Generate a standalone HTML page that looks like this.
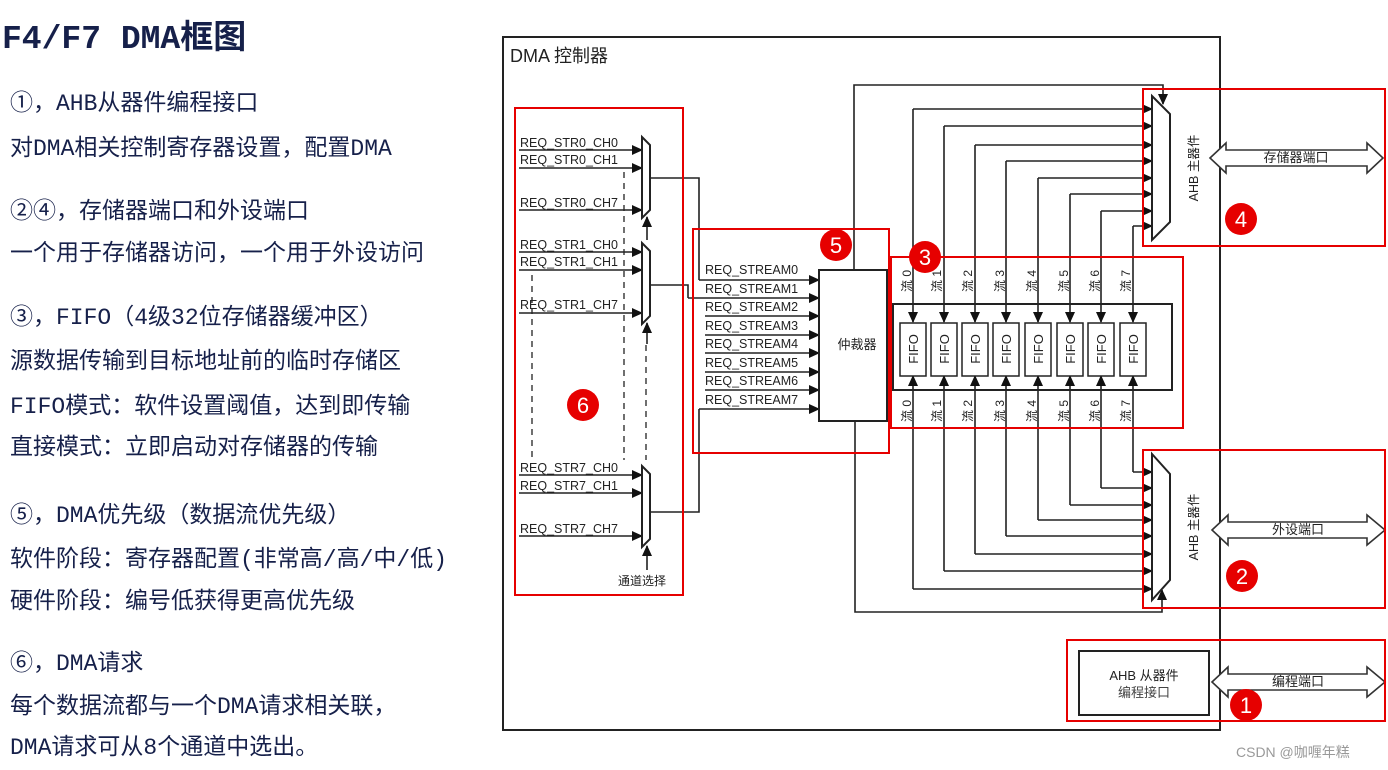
<!DOCTYPE html>
<html><head><meta charset="utf-8"><style>
body{margin:0;background:#fff}
svg{display:block}
.t{font-family:"Liberation Mono","Noto Sans CJK SC",monospace;fill:#16204a}
.s{font-family:"Liberation Sans","Noto Sans CJK SC",sans-serif;fill:#222}
.r{fill:none;stroke:#e60000;stroke-width:2}
.l{stroke:#222;stroke-width:1.6;fill:none}
</style></head><body>
<svg width="1388" height="770" viewBox="0 0 1388 770" xmlns="http://www.w3.org/2000/svg">
<defs><marker id="a" markerWidth="11" markerHeight="10" refX="10" refY="5" orient="auto" markerUnits="userSpaceOnUse"><path d="M0,0L11,5L0,10z" fill="#111"/></marker></defs>
<g class="t">
<text x="2" y="48" font-size="33" font-weight="bold">F4/F7 DMA框图</text>
<g font-size="23">
<text x="10" y="110">①，AHB从器件编程接口</text>
<text x="10" y="155">对DMA相关控制寄存器设置，配置DMA</text>
<text x="10" y="218">②④，存储器端口和外设端口</text>
<text x="10" y="260">一个用于存储器访问，一个用于外设访问</text>
<text x="10" y="324">③，FIFO（4级32位存储器缓冲区）</text>
<text x="10" y="368">源数据传输到目标地址前的临时存储区</text>
<text x="10" y="413">FIFO模式：软件设置阈值，达到即传输</text>
<text x="10" y="454">直接模式：立即启动对存储器的传输</text>
<text x="10" y="522">⑤，DMA优先级（数据流优先级）</text>
<text x="10" y="566">软件阶段：寄存器配置(非常高/高/中/低)</text>
<text x="10" y="608">硬件阶段：编号低获得更高优先级</text>
<text x="10" y="670">⑥，DMA请求</text>
<text x="10" y="713">每个数据流都与一个DMA请求相关联，</text>
<text x="10" y="754">DMA请求可从8个通道中选出。</text>
</g></g>
<rect x="503" y="37" width="717" height="693" fill="none" stroke="#222" stroke-width="2"/>
<text class="s" x="510" y="62" font-size="18">DMA 控制器</text>
<g class="s" font-size="12.5">
<text x="520" y="147">REQ_STR0_CH0</text><text x="520" y="164">REQ_STR0_CH1</text><text x="520" y="207">REQ_STR0_CH7</text>
<text x="520" y="249">REQ_STR1_CH0</text><text x="520" y="266">REQ_STR1_CH1</text><text x="520" y="309">REQ_STR1_CH7</text>
<text x="520" y="472">REQ_STR7_CH0</text><text x="520" y="490">REQ_STR7_CH1</text><text x="520" y="533">REQ_STR7_CH7</text>
<text x="618" y="585" font-size="12">通道选择</text>
</g>
<g class="l" marker-end="url(#a)">
<path d="M519 150H642"/><path d="M519 168H642"/><path d="M519 210H642"/>
<path d="M519 252H642"/><path d="M519 270H642"/><path d="M519 313H642"/>
<path d="M519 475H642"/><path d="M519 493H642"/><path d="M519 536H642"/>
<path d="M647 240V217"/><path d="M647 344V323"/><path d="M647 570V546"/>
</g>
<g stroke="#222" stroke-width="1.3" stroke-dasharray="6,5" fill="none">
<path d="M624 172V460"/><path d="M532 275V460"/><path d="M646 345V460"/>
</g>
<g fill="#fff" stroke="#222" stroke-width="2">
<path d="M642 137L650 145V210L642 218Z"/><path d="M642 243L650 251V316L642 324Z"/><path d="M642 466L650 474V539L642 547Z"/>
</g>
<g class="l">
<path d="M650 178H699V280"/><path d="M650 285H688V298"/><path d="M650 512H699V409"/>
</g>
<g class="s" font-size="12.5">
<text x="705" y="274">REQ_STREAM0</text><text x="705" y="293">REQ_STREAM1</text><text x="705" y="311">REQ_STREAM2</text><text x="705" y="330">REQ_STREAM3</text>
<text x="705" y="348">REQ_STREAM4</text><text x="705" y="367">REQ_STREAM5</text><text x="705" y="385">REQ_STREAM6</text><text x="705" y="404">REQ_STREAM7</text>
</g>
<g class="l" marker-end="url(#a)">
<path d="M699 280H819"/><path d="M688 298H819"/><path d="M705 316H819"/><path d="M705 335H819"/><path d="M705 353H819"/><path d="M705 372H819"/><path d="M705 390H819"/><path d="M699 409H819"/>
</g>
<rect x="819" y="270" width="68" height="151" fill="#fff" stroke="#222" stroke-width="2"/>
<text class="s" x="857" y="349" font-size="13" text-anchor="middle" fill="#444">仲裁器</text>
<g class="l" marker-end="url(#a)">
<path d="M854 270V85H1163V104"/><path d="M855 421V612H1162V590"/>
</g>
<g class="l" marker-end="url(#a)">
<path d="M913 109H1152"/><path d="M944 126H1152"/><path d="M975 145H1152"/><path d="M1006 161H1152"/><path d="M1038 178H1152"/><path d="M1070 194H1152"/><path d="M1101 211H1152"/><path d="M1133 226H1152"/>
<path d="M913 109V322"/><path d="M944 126V322"/><path d="M975 145V322"/><path d="M1006 161V322"/><path d="M1038 178V322"/><path d="M1070 194V322"/><path d="M1101 211V322"/><path d="M1133 226V322"/>
<path d="M913 589V376"/><path d="M944 571V376"/><path d="M975 554V376"/><path d="M1006 536V376"/><path d="M1038 520V376"/><path d="M1070 505V376"/><path d="M1101 488V376"/><path d="M1133 472V376"/>
<path d="M913 589H1152"/><path d="M944 571H1152"/><path d="M975 554H1152"/><path d="M1006 536H1152"/><path d="M1038 520H1152"/><path d="M1070 505H1152"/><path d="M1101 488H1152"/><path d="M1133 472H1152"/>
</g>
<g fill="#fff" stroke="#222" stroke-width="2">
<path d="M1152 96L1170 114V222L1152 240Z"/><path d="M1152 454L1170 474V580L1152 600Z"/>
</g>
<g class="s" font-size="12.5" fill="#333">
<text transform="translate(1198,168) rotate(-90)" text-anchor="middle">AHB 主器件</text>
<text transform="translate(1198,527) rotate(-90)" text-anchor="middle">AHB 主器件</text>
</g>
<rect x="893" y="304" width="279" height="86" fill="none" stroke="#222" stroke-width="2"/>
<g fill="#fff" stroke="#222" stroke-width="1.5">
<rect x="900" y="323" width="26" height="53"/><rect x="931" y="323" width="26" height="53"/><rect x="962" y="323" width="26" height="53"/><rect x="993" y="323" width="26" height="53"/><rect x="1025" y="323" width="26" height="53"/><rect x="1057" y="323" width="26" height="53"/><rect x="1088" y="323" width="26" height="53"/><rect x="1120" y="323" width="26" height="53"/>
</g>
<g class="s" font-size="13">
<text transform="translate(918,349) rotate(-90)" text-anchor="middle">FIFO</text><text transform="translate(949,349) rotate(-90)" text-anchor="middle">FIFO</text><text transform="translate(980,349) rotate(-90)" text-anchor="middle">FIFO</text><text transform="translate(1011,349) rotate(-90)" text-anchor="middle">FIFO</text><text transform="translate(1043,349) rotate(-90)" text-anchor="middle">FIFO</text><text transform="translate(1075,349) rotate(-90)" text-anchor="middle">FIFO</text><text transform="translate(1106,349) rotate(-90)" text-anchor="middle">FIFO</text><text transform="translate(1138,349) rotate(-90)" text-anchor="middle">FIFO</text>
</g>
<g class="s" font-size="12" fill="#444">
<text transform="translate(911,281) rotate(-90)" text-anchor="middle">流 0</text><text transform="translate(941,281) rotate(-90)" text-anchor="middle">流 1</text><text transform="translate(972,281) rotate(-90)" text-anchor="middle">流 2</text><text transform="translate(1004,281) rotate(-90)" text-anchor="middle">流 3</text><text transform="translate(1036,281) rotate(-90)" text-anchor="middle">流 4</text><text transform="translate(1068,281) rotate(-90)" text-anchor="middle">流 5</text><text transform="translate(1099,281) rotate(-90)" text-anchor="middle">流 6</text><text transform="translate(1130,281) rotate(-90)" text-anchor="middle">流 7</text>
<text transform="translate(911,411) rotate(-90)" text-anchor="middle">流 0</text><text transform="translate(941,411) rotate(-90)" text-anchor="middle">流 1</text><text transform="translate(972,411) rotate(-90)" text-anchor="middle">流 2</text><text transform="translate(1004,411) rotate(-90)" text-anchor="middle">流 3</text><text transform="translate(1036,411) rotate(-90)" text-anchor="middle">流 4</text><text transform="translate(1068,411) rotate(-90)" text-anchor="middle">流 5</text><text transform="translate(1099,411) rotate(-90)" text-anchor="middle">流 6</text><text transform="translate(1130,411) rotate(-90)" text-anchor="middle">流 7</text>
</g>
<g fill="#fff" stroke="#333" stroke-width="1.6">
<path d="M1210 158L1226 143V150H1367V143L1383 158L1367 173V166H1226V173Z"/>
<path d="M1212 530L1228 515V522H1367V515L1385 530L1367 545V538H1228V545Z"/>
<path d="M1212 682L1228 667V674H1367V667L1385 682L1367 697V690H1228V697Z"/>
</g>
<g class="s" font-size="13" fill="#444" text-anchor="middle">
<text x="1296" y="162">存储器端口</text><text x="1298" y="534">外设端口</text><text x="1298" y="686">编程端口</text>
</g>
<rect x="1079" y="651" width="130" height="64" fill="#fff" stroke="#222" stroke-width="2"/>
<g class="s" font-size="13" text-anchor="middle"><text x="1144" y="680">AHB 从器件</text><text x="1144" y="697" fill="#444">编程接口</text></g>
<rect class="r" x="515" y="108" width="168" height="487"/>
<rect class="r" x="693" y="229" width="196" height="224"/>
<rect class="r" x="891" y="257" width="292" height="171"/>
<rect class="r" x="1143" y="89" width="242" height="157"/>
<rect class="r" x="1143" y="450" width="242" height="158"/>
<rect class="r" x="1067" y="640" width="318" height="81"/>
<g fill="#e60000"><circle cx="583" cy="405" r="16"/><circle cx="836" cy="245" r="16"/><circle cx="925" cy="257" r="16"/><circle cx="1241" cy="219" r="16"/><circle cx="1242" cy="576" r="16"/><circle cx="1246" cy="705" r="16"/></g>
<g font-family="Liberation Sans,sans-serif" font-size="22" fill="#fff" text-anchor="middle">
<text x="583" y="413">6</text><text x="836" y="253">5</text><text x="925" y="265">3</text><text x="1241" y="227">4</text><text x="1242" y="584">2</text><text x="1246" y="713">1</text>
</g>
<text x="1236" y="757" font-family="Liberation Sans,Noto Sans CJK SC,sans-serif" font-size="14" fill="#999">CSDN @咖喱年糕</text>
</svg>
</body></html>
